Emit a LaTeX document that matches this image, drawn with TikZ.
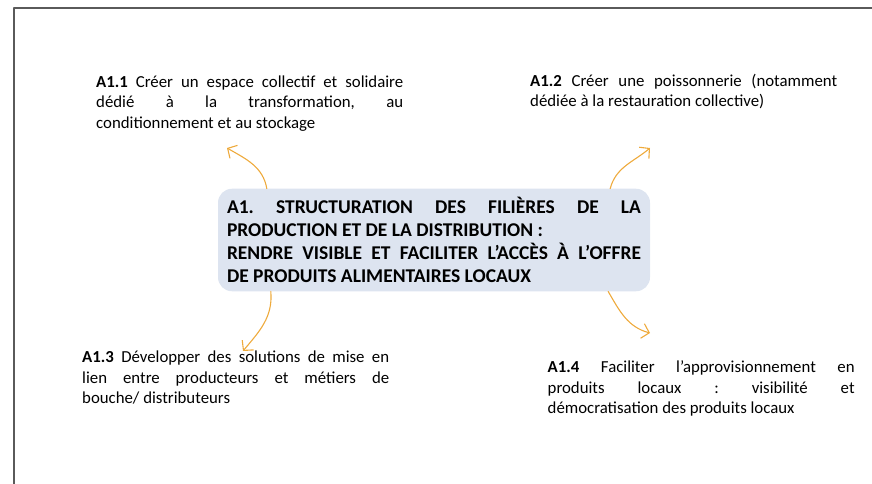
\documentclass[tikz,border=0pt]{standalone}
\usepackage{fontspec}
\setmainfont{Carlito}
\usetikzlibrary{arrows.meta}
\definecolor{boxfill}{RGB}{221,228,240}
\definecolor{arrowc}{RGB}{238,170,60}
\definecolor{framec}{RGB}{90,90,90}
\frenchspacing
\begin{document}
\begin{tikzpicture}[x=1pt,y=1pt,line join=round,line cap=round,
	box/.style={rounded corners=14pt,fill=boxfill,text width=414pt,align=justify,inner xsep=9pt,inner ysep=8.5pt,font=\fontsize{19.5}{23}\selectfont\bfseries},
	txt/.style={text width=307pt,align=justify,inner sep=0pt,anchor=base west,font=\fontsize{16.8}{20.5}\selectfont},
	arr/.style={arrowc,line width=1.1pt,-{Straight Barb[length=7pt,width=15pt]}}]
				\useasboundingbox (0,0) rectangle (872,-484);
				\draw[framec,line width=1.2pt] (14,-484)--(14,-8)--(872,-8);
				% central box
				\node[box] (A1) at (434,-240) {A1. STRUCTURATION DES FILIÈRES DE LA\linebreak PRODUCTION ET DE LA DISTRIBUTION :\\ RENDRE VISIBLE ET FACILITER L’ACCÈS À L’OFFRE\linebreak DE PRODUITS ALIMENTAIRES LOCAUX};
				% actions
				\node[txt] (A11) at (96,-87.5) {\textbf{A1.1} Créer un espace collectif et solidaire\linebreak dédié à la transformation, au\linebreak conditionnement et au stockage};
				\node[txt] (A12) at (530,-86.5) {\textbf{A1.2} Créer une poissonnerie (notamment\linebreak dédiée à la restauration collective)};
				\node[txt] (A13) at (82,-362.7) {\textbf{A1.3} Développer des solutions de mise en\linebreak lien entre producteurs et métiers de\linebreak bouche/ distributeurs};
				\node[txt] (A14) at (547.5,-372.7) {\textbf{A1.4} Faciliter l’approvisionnement en\linebreak produits locaux : visibilité et\linebreak démocratisation des produits locaux};
				\coordinate (e11) at (227,-148);
				\coordinate (e12) at (650,-148);
				\coordinate (e13) at (243,-351);
				\coordinate (e14) at (650,-333);
				\draw[arr] ([xshift=49pt]A1.north west) to[out=100,in=-30] (e11);
				\draw[arr] ([xshift=-40pt]A1.north east) to[out=75,in=220] (e12);
				\draw[arr] ([xshift=53pt]A1.south west) to[out=-85,in=50] (e13);
				\draw[arr] ([xshift=-42pt]A1.south east) to[out=-60,in=165] (e14);
			\end{tikzpicture}
\end{document}
